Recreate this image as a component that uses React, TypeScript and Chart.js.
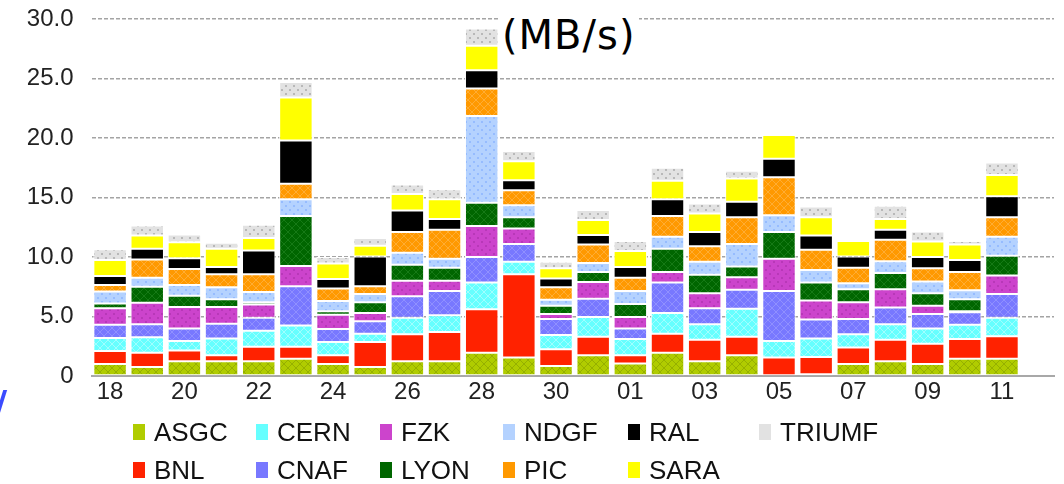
import React, { useEffect, useRef } from 'react';
import { Chart, registerables } from 'chart.js';

Chart.register(...registerables);

// Days on the x axis
const days = ['18', '19', '20', '21', '22', '23', '24', '25', '26', '27', '28', '29', '30', '31',
  '01', '02', '03', '04', '05', '06', '07', '08', '09', '10', '11'];

// Y-axis tick values
const yTicks = [0, 5, 10, 15, 20, 25, 30];

// Throughput per site (MB/s)
const ASGC = [1.0, 0.75, 1.25, 1.25, 1.25, 1.45, 1.0, 0.75, 1.25, 1.25, 1.95, 1.55, 0.85, 1.75, 1.05, 1.95, 1.25, 1.75, 0, 0.15, 1.0, 1.25, 1.0, 1.45, 1.45];
const BNL = [1.1, 1.2, 0.9, 0.5, 1.2, 1.0, 0.75, 2.1, 2.25, 2.45, 3.65, 7.0, 1.4, 1.55, 0.7, 1.6, 1.8, 1.55, 1.55, 1.45, 1.4, 1.8, 1.7, 1.65, 1.9];
const CERN = [1.1, 1.3, 0.8, 1.4, 1.35, 1.8, 1.1, 0.7, 1.4, 1.4, 2.25, 1.05, 1.2, 1.65, 1.35, 1.75, 1.3, 2.35, 1.4, 1.55, 1.1, 1.3, 1.3, 1.2, 1.55];
const CNAF = [1.1, 1.1, 1.05, 1.25, 1.1, 3.3, 1.1, 1.05, 1.8, 2.05, 2.15, 1.5, 1.35, 1.55, 0.9, 2.55, 1.35, 1.6, 4.2, 1.6, 1.3, 1.4, 1.2, 1.05, 2.0];
const FZK = [1.4, 1.8, 1.8, 1.4, 1.1, 1.7, 1.2, 0.7, 1.3, 0.85, 2.6, 1.3, 0.4, 1.4, 0.95, 0.9, 1.25, 1.05, 2.7, 1.6, 1.4, 1.55, 0.7, 0.1, 1.55];
const LYON = [0.4, 1.35, 0.95, 0.65, 0.2, 4.2, 0.3, 0.9, 1.35, 1.1, 1.95, 0.95, 0.7, 0.85, 1.1, 1.95, 1.55, 0.9, 2.25, 1.5, 1.1, 1.35, 1.05, 1.0, 1.65];
const NDGF = [1.0, 0.75, 0.9, 1.0, 0.85, 1.4, 0.85, 0.7, 1.0, 0.75, 7.3, 1.0, 0.5, 0.75, 1.1, 1.0, 1.1, 1.9, 1.4, 1.05, 0.5, 1.0, 1.0, 0.75, 1.6];
const PIC = [0.55, 1.55, 1.35, 1.1, 1.5, 1.3, 1.05, 0.65, 1.75, 2.45, 2.3, 1.25, 1.05, 1.55, 1.1, 1.75, 1.3, 2.25, 3.2, 1.7, 1.3, 1.8, 1.1, 1.55, 1.65];
const RAL = [0.75, 0.9, 0.9, 0.6, 2.0, 3.65, 0.8, 2.5, 1.8, 0.9, 1.55, 0.85, 0.75, 0.8, 0.9, 1.4, 1.2, 1.3, 1.55, 1.2, 0.95, 0.85, 0.95, 1.0, 1.75];
const SARA = [1.35, 1.1, 1.35, 1.55, 1.05, 3.6, 1.3, 0.9, 1.4, 1.65, 2.05, 1.6, 0.85, 1.25, 1.35, 1.55, 1.55, 1.95, 2.0, 1.55, 1.3, 0.9, 1.3, 1.3, 1.8];
const TRIUMF = [0.9, 0.85, 0.65, 0.5, 1.1, 1.3, 0.55, 0.65, 0.8, 0.85, 1.45, 0.85, 0.55, 0.85, 0.85, 1.1, 0.85, 0.65, 0, 0.9, 0, 1.1, 0.85, 0.3, 1.05];

const siteNames = ['ASGC', 'BNL', 'CERN', 'CNAF', 'FZK', 'LYON', 'NDGF', 'PIC', 'RAL', 'SARA', 'TRIUMF'];
const siteValues = [ASGC, BNL, CERN, CNAF, FZK, LYON, NDGF, PIC, RAL, SARA, TRIUMF];

// Styles: base colour, pattern ink, pattern kind
const siteStyles: [string, string, string][] = [
  ['#b0cc00', '#96b000', 'x'],
  ['#ff2200', '#ff2200', 'none'],
  ['#66ffff', '#a0ffff', 'x'],
  ['#7878ff', '#9090ff', 'x'],
  ['#cc44cc', '#b838b8', 'dot'],
  ['#006600', '#167a16', 'x'],
  ['#b4d2ff', '#96bcff', 'dot'],
  ['#ff9900', '#ffad33', 'x'],
  ['#000000', '#000000', 'none'],
  ['#ffff00', '#ffff00', 'none'],
  ['#e2e2e2', '#b8b8b8', 'dot'],
];

function makePattern(base: string, ink: string, kind: string): any {
  if (kind === 'none') return base;
  const c = document.createElement('canvas');
  c.width = 8;
  c.height = 8;
  const g = c.getContext('2d')!;
  g.fillStyle = base;
  g.fillRect(0, 0, 8, 8);
  if (kind === 'x') {
    g.strokeStyle = ink;
    g.lineWidth = 1;
    g.beginPath();
    g.moveTo(0, 0); g.lineTo(8, 8);
    g.moveTo(8, 0); g.lineTo(0, 8);
    g.stroke();
  } else if (kind === 'dot') {
    g.fillStyle = ink;
    g.fillRect(1, 1, 2, 2);
    g.fillRect(5, 5, 2, 2);
  }
  return g.createPattern(c, 'repeat');
}

const FONT = "'Liberation Sans', Arial, sans-serif";

export default function App() {
  const ref = useRef<HTMLCanvasElement>(null);

  useEffect(() => {
    const canvas = ref.current!;
    const datasets = siteNames.map((name, k) => ({
      label: name,
      data: siteValues[k].map((v, i) => ({ x: i, y: v })),
      backgroundColor: makePattern(siteStyles[k][0], siteStyles[k][1], siteStyles[k][2]),
      borderColor: '#ffffff',
      borderWidth: 1,
      borderSkipped: false as any,
      barPercentage: 0.9,
      categoryPercentage: 1.0,
    }));

    const chart = new Chart(canvas, {
      type: 'bar',
      data: { datasets },
      options: {
        animation: false,
        responsive: false,
        maintainAspectRatio: false,
        layout: { padding: { left: 0, right: 10, top: 19, bottom: 0 } },
        plugins: { legend: { display: false }, tooltip: { enabled: false }, title: { display: false } },
        scales: {
          x: {
            type: 'linear',
            stacked: true,
            min: -0.5,
            max: 25.4,
            offset: false,
            grid: { display: false, drawTicks: false },
            border: { display: true, color: '#a8a8a8', width: 2 },
            ticks: {
              autoSkip: false,
              maxRotation: 0,
              padding: 2,
              color: '#222',
              font: { family: FONT, size: 24 },
              callback: (v: any) => days[v as number] ?? '',
            },
            afterBuildTicks: (s: any) => {
              s.ticks = days.map((_, i) => ({ value: i })).filter((t) => t.value % 2 === 0);
            },
            afterFit: (s: any) => { s.height = 108; },
          },
          y: {
            stacked: true,
            min: 0,
            max: 30,
            ticks: {
              padding: 18,
              color: '#222',
              font: { family: FONT, size: 24 },
              callback: (v: any) => (v === 0 ? '0' : Number(v).toFixed(1)),
            },
            afterBuildTicks: (s: any) => { s.ticks = yTicks.map((v) => ({ value: v })); },
            grid: {
              drawTicks: false,
              color: (ctx: any) => (ctx.tick && ctx.tick.value === 0 ? 'rgba(0,0,0,0)' : '#a4a4a4'),
              lineWidth: 1.5,
            },
            border: { display: false, dash: [4, 2] },
            afterFit: (s: any) => {
              s.width = 91.5;
              s.paddingTop = 0;
              s.paddingBottom = 0;
            },
          },
        },
      },
    } as any);
    return () => chart.destroy();
  }, []);

  return (
    <div style={{ position: 'fixed', left: 0, top: 0, width: 1064, height: 484, background: '#fff', overflow: 'hidden' }}>
      <canvas ref={ref} width={1064} height={484} style={{ position: 'absolute', left: 0, top: 0, width: 1064, height: 484 }} />
      <div style={{
        position: 'absolute', left: 498, top: 8, background: '#fff', padding: '0 4px',
        fontFamily: "'DejaVu Sans', sans-serif", fontSize: 40, lineHeight: '54px', color: '#000', letterSpacing: 1,
      }}>(MB/s)</div>
      <div style={{
        position: 'absolute', left: -6, top: 384, color: '#3b4bff', fontFamily: "'DejaVu Sans', sans-serif",
        fontSize: 36, fontWeight: 'bold', lineHeight: '40px',
      }}>/</div>
      <div style={{
        position: 'absolute', left: 133, top: 413, display: 'grid',
        gridTemplateRows: '38px 38px', gridTemplateColumns: '123px 124px 123px 125px 131px 120px', gridAutoFlow: 'column',
        fontFamily: FONT, fontSize: 26, color: '#111',
      }}>
        {siteNames.map((n, k) => (
          <div key={n} style={{ display: 'flex', alignItems: 'center', whiteSpace: 'nowrap' }}>
            <span style={{ display: 'inline-block', width: 12, height: 16, background: siteStyles[k][0], marginRight: 9 }} />
            <span>{n}</span>
          </div>
        ))}
      </div>
    </div>
  );
}
